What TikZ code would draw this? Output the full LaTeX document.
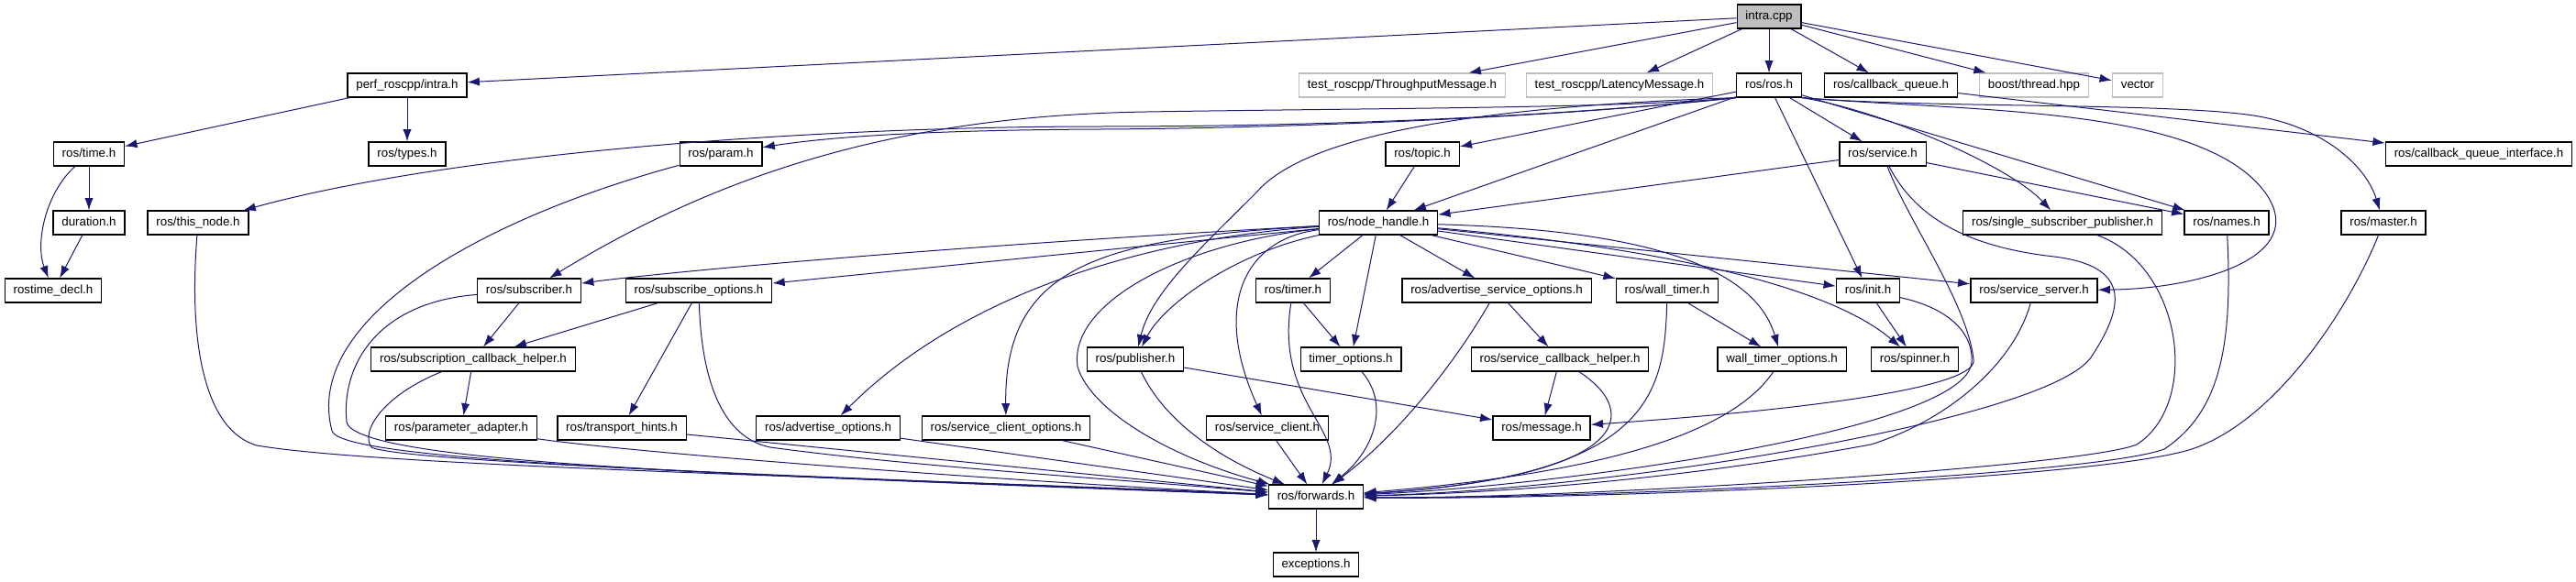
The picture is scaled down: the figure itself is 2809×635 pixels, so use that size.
\documentclass[tikz,border=0pt]{standalone}
\usepackage{fontspec}
\setmainfont{Liberation Sans}
\usetikzlibrary{arrows.meta}
\definecolor{midnight}{HTML}{191970}
\definecolor{undocgray}{HTML}{BFBFBF}

\begin{document}
\begin{tikzpicture}[x=0.75pt, y=-0.75pt,
    header/.style={rectangle, draw=black, line width=0.9pt, fill=white,
    minimum height=19.5pt, inner xsep=7pt, inner ysep=0pt,
    text height=7.2pt, text depth=2.1pt, font=\fontsize{10}{12}\selectfont},
    undoc/.style={header, draw=undocgray},
    source/.style={header, fill=undocgray},
    inc/.style={-{Latex[length=10pt,width=7pt]}, draw=midnight, line width=0.75pt},]
    \useasboundingbox (0,0) rectangle (2809,635);

    \node (intra) [source] at (1929,18) {intra.cpp};

    \node (perfintra) [header] at (444,93) {perf\_roscpp/intra.h};
    \node (throughput) [undoc] at (1529,93) {test\_roscpp/ThroughputMessage.h};
    \node (latency) [undoc] at (1766,93) {test\_roscpp/LatencyMessage.h};
    \node (ros) [header] at (1929,93) {ros/ros.h};
    \node (cbqueue) [header] at (2062,93) {ros/callback\_queue.h};
    \node (thread) [undoc] at (2218,93) {boost/thread.hpp};
    \node (vector) [undoc] at (2331,93) {vector};

    \node (time) [header] at (97,168) {ros/time.h};
    \node (types) [header] at (444,168) {ros/types.h};
    \node (param) [header] at (786,168) {ros/param.h};
    \node (topic) [header] at (1551,168) {ros/topic.h};
    \node (service) [header] at (2053,168) {ros/service.h};
    \node (cbqiface) [header] at (2703,168) {ros/callback\_queue\_interface.h};

    \node (duration) [header] at (97,243) {duration.h};
    \node (thisnode) [header] at (216,243) {ros/this\_node.h};
    \node (nodehandle) [header] at (1503,243) {ros/node\_handle.h};
    \node (singlesub) [header] at (2249,243) {ros/single\_subscriber\_publisher.h};
    \node (names) [header] at (2428,243) {ros/names.h};
    \node (master) [header] at (2599,243) {ros/master.h};

    \node (rostimedecl) [header] at (58,317) {rostime\_decl.h};
    \node (subscriber) [header] at (577,317) {ros/subscriber.h};
    \node (subopts) [header] at (762,317) {ros/subscribe\_options.h};
    \node (timer) [header] at (1410,317) {ros/timer.h};
    \node (advsrvopts) [header] at (1632,317) {ros/advertise\_service\_options.h};
    \node (walltimer) [header] at (1818,317) {ros/wall\_timer.h};
    \node (init) [header] at (2037,317) {ros/init.h};
    \node (srvserver) [header] at (2218,317) {ros/service\_server.h};

    \node (subcbhelper) [header] at (516,392) {ros/subscription\_callback\_helper.h};
    \node (publisher) [header] at (1238,392) {ros/publisher.h};
    \node (timeropts) [header] at (1473,392) {timer\_options.h};
    \node (srvcbhelper) [header] at (1701,392) {ros/service\_callback\_helper.h};
    \node (walltimeropts) [header] at (1943,392) {wall\_timer\_options.h};
    \node (spinner) [header] at (2088,392) {ros/spinner.h};

    \node (paramadapter) [header] at (503,467) {ros/parameter\_adapter.h};
    \node (hints) [header] at (678,467) {ros/transport\_hints.h};
    \node (advopts) [header] at (903,467) {ros/advertise\_options.h};
    \node (srvclientopts) [header] at (1097,467) {ros/service\_client\_options.h};
    \node (srvclient) [header] at (1382,467) {ros/service\_client.h};
    \node (message) [header] at (1681,467) {ros/message.h};

    \node (forwards) [header] at (1435,542) {ros/forwards.h};
    \node (exceptions) [header] at (1435,616) {exceptions.h};

    % intra.cpp
    \draw [inc] (intra) -- (perfintra);
    \draw [inc] (intra) -- (throughput);
    \draw [inc] (intra) -- (latency);
    \draw [inc] (intra) -- (ros);
    \draw [inc] (intra) -- (cbqueue);
    \draw [inc] (intra) -- (thread);
    \draw [inc] (intra) -- (vector);

    \draw [inc] (perfintra) -- (time);
    \draw [inc] (perfintra) -- (types);
    \draw [inc] (time) -- (duration);
    \draw [inc] (time) .. controls (50,210) and (38,265) .. (rostimedecl);
    \draw [inc] (duration) -- (rostimedecl);

    % ros/ros.h
    \draw [inc] (ros.south west) .. controls (1750,122) and (1500,138) .. (1200,138)
        .. controls (900,138) and (500,165) .. (thisnode);
    \draw [inc] (ros.south west) .. controls (1700,128) and (1400,140) .. (1200,141)
        .. controls (1000,142) and (900,150) .. (param);
    \draw [inc] (ros.south west) .. controls (1780,118) and (1500,118) .. (1250,122)
        .. controls (1000,126) and (800,180) .. (subscriber);
    \draw [inc] (ros.south west) .. controls (1650,115) and (1430,140) .. (1370,210)
        .. controls (1310,270) and (1255,320) .. (publisher);
    \draw [inc] (ros) -- (topic);
    \draw [inc] (ros) -- (nodehandle);
    \draw [inc] (ros) -- (init);
    \draw [inc] (ros) -- (service);
    \draw [inc] (ros.south east) .. controls (2050,120) and (2190,180) .. (singlesub);
    \draw [inc] (ros) -- (names);
    \draw [inc] (ros.south east) .. controls (2100,118) and (2350,112) .. (2450,125)
        .. controls (2530,135) and (2580,180) .. (master);
    \draw [inc] (ros.south east) .. controls (2150,122) and (2400,115) .. (2470,210)
        .. controls (2520,280) and (2400,315) .. (srvserver);

    \draw [inc] (cbqueue) -- (cbqiface);
    \draw [inc] (topic) -- (nodehandle);

    % ros/service.h
    \draw [inc] (service) -- (nodehandle);
    \draw [inc] (service) -- (names);
    \draw [inc] (service) .. controls (2080,240) and (2145,330) .. (2152,392)
        .. controls (2158,420) and (2000,445) .. (message);
    \draw [inc] (service) .. controls (2090,240) and (2150,270) .. (2240,280)
        .. controls (2320,290) and (2320,330) .. (2280,390)
        .. controls (2230,460) and (1750,535) .. (forwards);

    \draw [inc] (param) .. controls (520,240) and (330,350) .. (362,470)
        .. controls (370,500) and (700,515) .. (forwards);
    \draw [inc] (thisnode) .. controls (205,380) and (225,470) .. (280,486)
        .. controls (420,510) and (1000,522) .. (forwards);

    % ros/node_handle.h
    \draw [inc] (nodehandle) .. controls (1000,270) and (700,300) .. (subscriber);
    \draw [inc] (nodehandle) -- (subopts);
    \draw [inc] (nodehandle) .. controls (1290,265) and (1165,330) .. (1175,400)
        .. controls (1190,450) and (1280,500) .. (forwards);
    \draw [inc] (nodehandle) .. controls (1350,275) and (1270,330) .. (publisher);
    \draw [inc] (nodehandle) .. controls (1250,260) and (1050,320) .. (advopts);
    \draw [inc] (nodehandle) .. controls (1200,260) and (1095,290) .. (srvclientopts);
    \draw [inc] (nodehandle) .. controls (1360,260) and (1320,330) .. (srvclient);
    \draw [inc] (nodehandle) -- (timer);
    \draw [inc] (nodehandle) -- (timeropts);
    \draw [inc] (nodehandle) -- (advsrvopts);
    \draw [inc] (nodehandle) -- (walltimer);
    \draw [inc] (nodehandle) .. controls (1760,250) and (1910,280) .. (walltimeropts);
    \draw [inc] (nodehandle) -- (init);
    \draw [inc] (nodehandle) .. controls (1750,265) and (1980,300) .. (spinner);
    \draw [inc] (nodehandle) -- (srvserver);

    \draw [inc] (singlesub) .. controls (2380,290) and (2400,440) .. (2330,485)
        .. controls (2270,510) and (1700,545) .. (forwards);
    \draw [inc] (names) .. controls (2435,380) and (2420,450) .. (2360,490)
        .. controls (2280,520) and (1700,545) .. (forwards);
    \draw [inc] (master) .. controls (2560,340) and (2480,460) .. (2390,490)
        .. controls (2280,525) and (1700,546) .. (forwards);

    % subscriber side
    \draw [inc] (subscriber) -- (subcbhelper);
    \draw [inc] (subscriber) .. controls (410,330) and (372,400) .. (378,460)
        .. controls (385,510) and (900,520) .. (forwards);
    \draw [inc] (subopts) -- (subcbhelper);
    \draw [inc] (subopts) -- (hints);
    \draw [inc] (subopts) .. controls (765,420) and (790,478) .. (840,488)
        .. controls (1000,510) and (1250,525) .. (forwards);
    \draw [inc] (subcbhelper) -- (paramadapter);
    \draw [inc] (subcbhelper) .. controls (420,430) and (392,470) .. (405,488)
        .. controls (440,505) and (950,522) .. (forwards);
    \draw [inc] (paramadapter) .. controls (700,495) and (1100,525) .. (forwards);
    \draw [inc] (hints) -- (forwards);
    \draw [inc] (advopts) -- (forwards);
    \draw [inc] (srvclientopts) -- (forwards);
    \draw [inc] (srvclient) -- (forwards);

    % publisher, timers, services
    \draw [inc] (publisher) -- (message);
    \draw [inc] (publisher) .. controls (1270,460) and (1330,500) .. (forwards);
    \draw [inc] (timer) -- (timeropts);
    \draw [inc] (timer) .. controls (1390,440) and (1470,470) .. (forwards);
    \draw [inc] (timeropts) .. controls (1515,440) and (1500,490) .. (forwards);
    \draw [inc] (advsrvopts) -- (srvcbhelper);
    \draw [inc] (advsrvopts) .. controls (1590,390) and (1530,470) .. (forwards);
    \draw [inc] (srvcbhelper) -- (message);
    \draw [inc] (srvcbhelper) .. controls (1790,450) and (1780,520) .. (forwards);
    \draw [inc] (walltimer) -- (walltimeropts);
    \draw [inc] (walltimer) .. controls (1815,430) and (1800,520) .. (forwards);
    \draw [inc] (walltimeropts) .. controls (1890,470) and (1760,515) .. (forwards);
    \draw [inc] (init) -- (spinner);
    \draw [inc] (init) .. controls (2120,335) and (2152,360) .. (2150,395)
        .. controls (2145,470) and (1700,530) .. (forwards);
    \draw [inc] (srvserver) .. controls (2195,400) and (2120,460) .. (2040,485)
        .. controls (1850,520) and (1650,538) .. (forwards);

    \draw [inc] (forwards) -- (exceptions);
\end{tikzpicture}
\end{document}
